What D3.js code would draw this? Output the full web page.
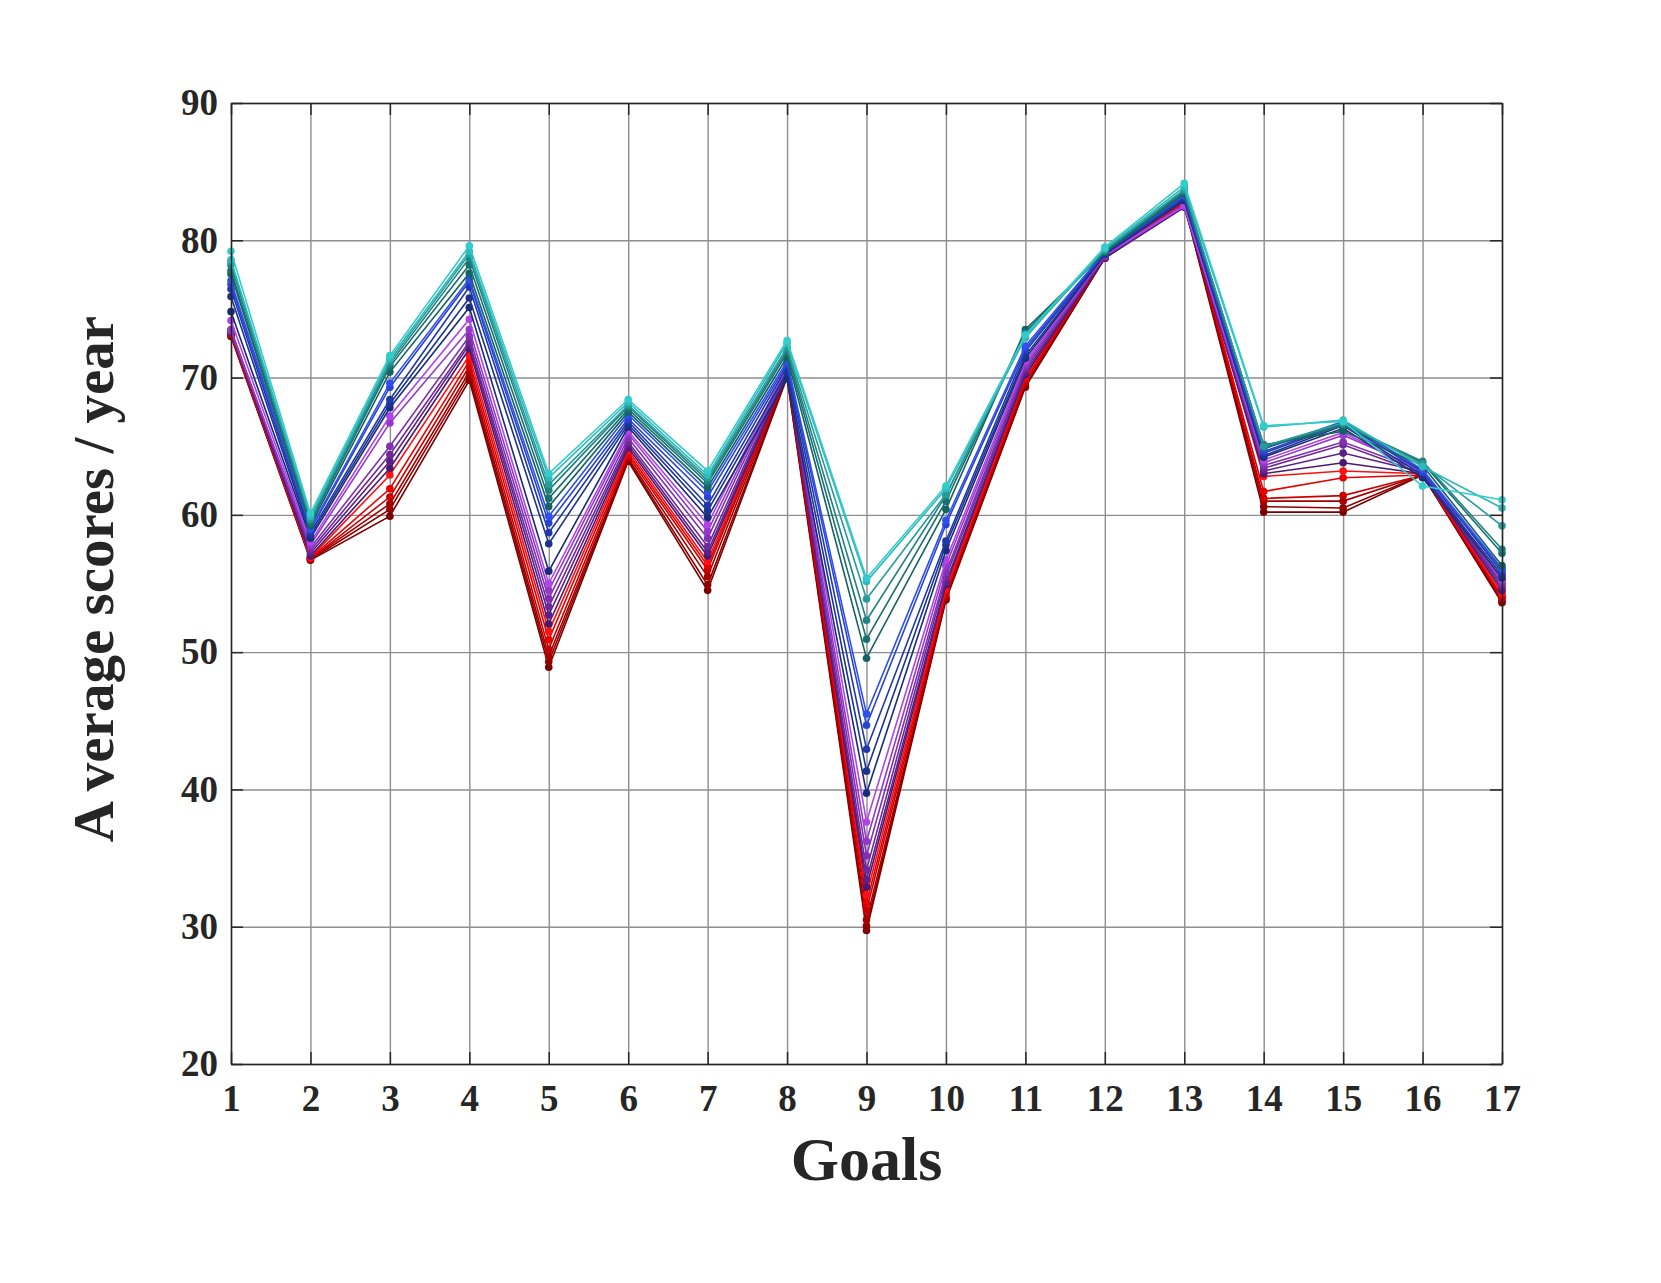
<!DOCTYPE html>
<html>
<head>
<meta charset="utf-8">
<script src="https://cdn.jsdelivr.net/npm/d3@7"></script>
<style>
  body { margin: 0; background: #fff; }
  text { font-family: "Liberation Serif", "Times New Roman", serif; font-weight: bold; fill: #262626; }
</style>
</head>
<body>
<div id="chart"></div>
<script>
// goals on the x axis, one series per year
const goals = [1, 2, 3, 4, 5, 6, 7, 8, 9, 10, 11, 12, 13, 14, 15, 16, 17];
const years = [2000, 2001, 2002, 2003, 2004, 2005, 2006, 2007, 2008, 2009, 2010, 2011,
               2012, 2013, 2014, 2015, 2016, 2017, 2018, 2019, 2020, 2021, 2022];
const yTicks = [20, 30, 40, 50, 60, 70, 80, 90];

// average score per goal, one row per goal, one value per year (same order as years)
const byGoal = [
  [73.0, 73.1, 73.1, 73.2, 73.2, 73.3, 73.3, 73.35, 73.4, 73.5, 73.4, 74.15, 74.8, 75.9, 76.45, 76.8, 77.06, 77.55, 77.8, 78.2, 78.4, 78.57, 79.2],
  [56.7, 56.75, 56.8, 56.8, 56.85, 56.9, 57.0, 57.2, 57.4, 57.6, 57.8, 58.0, 58.3, 58.5, 58.7, 58.9, 59.0, 59.2, 59.4, 59.6, 59.7, 59.9, 60.1],
  [59.9, 60.4, 60.8, 61.3, 61.9, 62.9, 63.4, 63.9, 64.4, 65.0, 66.7, 67.2, 67.8, 68.1, 68.4, 69.3, 69.6, 70.4, 70.8, 71.0, 71.2, 71.4, 71.6],
  [69.8, 70.1, 70.4, 70.8, 71.2, 71.6, 72.1, 72.4, 72.6, 73.0, 73.5, 74.25, 75.1, 75.8, 76.6, 77.0, 77.2, 77.6, 78.2, 78.7, 79.0, 79.2, 79.6],
  [48.9, 49.3, 49.7, 50.2, 50.9, 51.5, 52.05, 52.7, 53.3, 53.9, 54.5, 55.0, 55.9, 57.9, 58.7, 59.4, 59.9, 60.6, 61.2, 61.8, 62.2, 62.7, 63.0],
  [63.9, 64.0, 64.1, 64.3, 64.5, 64.7, 64.9, 65.1, 65.3, 65.6, 65.9, 66.1, 66.4, 66.6, 66.8, 67.0, 67.3, 67.5, 67.7, 67.9, 68.0, 68.2, 68.4],
  [54.5, 54.9, 55.5, 56.0, 56.3, 56.6, 57.0, 57.3, 57.7, 58.3, 58.8, 59.3, 59.8, 60.3, 60.7, 61.3, 61.7, 62.0, 62.3, 62.5, 62.7, 62.9, 63.2],
  [70.0, 70.1, 70.2, 70.3, 70.4, 70.5, 70.3, 70.4, 70.5, 70.6, 70.7, 70.8, 69.9, 70.4, 70.8, 71.0, 71.2, 71.5, 71.8, 72.0, 72.2, 72.5, 72.7],
  [29.72, 30.06, 30.5, 31.17, 31.71, 32.29, 32.88, 33.41, 34.14, 35.16, 36.22, 37.63, 39.72, 41.33, 42.93, 44.67, 45.5, 49.56, 50.94, 52.32, 53.87, 55.14, 55.38],
  [53.8, 53.9, 54.0, 54.2, 54.4, 54.6, 54.9, 55.1, 55.5, 55.8, 56.3, 56.7, 57.4, 57.8, 58.1, 59.3, 59.6, 60.4, 61.0, 61.4, 61.5, 61.9, 62.1],
  [69.3, 69.4, 69.5, 69.7, 69.9, 70.1, 70.2, 70.4, 70.6, 70.8, 71.0, 71.2, 71.4, 71.6, 71.9, 72.1, 72.3, 73.5, 73.3, 73.2, 73.0, 72.9, 73.1],
  [78.7, 78.7, 78.75, 78.8, 78.8, 78.85, 78.7, 78.75, 78.8, 78.85, 78.9, 78.9, 78.95, 79.0, 79.05, 79.1, 79.15, 79.1, 79.2, 79.25, 79.3, 79.4, 79.5],
  [82.6, 82.65, 82.7, 82.75, 82.8, 82.85, 82.4, 82.45, 82.5, 82.55, 82.6, 82.5, 82.9, 83.0, 83.1, 83.2, 83.3, 83.4, 83.5, 83.6, 83.7, 83.9, 84.15],
  [60.2, 60.6, 61.0, 61.2, 61.7, 62.8, 63.0, 63.2, 63.4, 63.6, 63.8, 64.0, 64.2, 64.3, 64.5, 64.6, 64.8, 65.1, 64.9, 65.0, 65.0, 66.4, 66.5],
  [60.2, 60.5, 61.0, 61.4, 62.7, 63.2, 63.8, 64.5, 65.1, 65.3, 65.8, 66.0, 66.3, 66.5, 66.6, 66.7, 66.8, 66.1, 66.5, 66.6, 66.7, 66.9, 66.8],
  [62.9, 62.9, 62.9, 62.9, 62.9, 63.0, 63.0, 63.1, 63.0, 63.2, 63.3, 63.1, 62.7, 62.9, 63.2, 63.1, 63.3, 63.6, 63.8, 63.9, 63.7, 63.5, 62.1],
  [53.6, 53.7, 53.9, 54.0, 54.1, 54.3, 54.5, 54.7, 54.9, 55.0, 55.2, 55.3, 55.4, 55.6, 55.8, 56.0, 56.1, 56.3, 57.2, 57.5, 59.2, 60.5, 61.1]
];

// colour per year: dark red -> red -> purple -> blue -> teal -> cyan
const yearColors = [
  "#7a0000", "#8f0000", "#a50000", "#c80000", "#e60000", "#ff1010",
  "#4b1870", "#5c1f85", "#6e2898", "#8030b0", "#9438c8", "#b044e6",
  "#182c7a", "#1c348f", "#2038a8", "#2844cc", "#3050ee",
  "#156262", "#1a6f6f", "#208282", "#279a9a", "#2eb8b8", "#33cccc"
];

const margin = {top: 103, right: 159, bottom: 219, left: 231};
const width = 1661 - margin.left - margin.right;
const height = 1283 - margin.top - margin.bottom;

const svg = d3.select("#chart")
  .append("svg")
    .attr("width", 1661)
    .attr("height", 1283)
  .append("g")
    .attr("transform", "translate(" + margin.left + "," + margin.top + ")");

const x = d3.scaleLinear().domain([1, 17]).range([0, width]);
const y = d3.scaleLinear().domain([20, 90]).range([height, 0]);

// grid
svg.append("g")
  .attr("transform", "translate(0," + height + ")")
  .call(d3.axisBottom(x).tickValues(goals).tickSize(-height).tickFormat(""))
  .call(g => g.select(".domain").remove())
  .selectAll("line").attr("stroke", "#8e8e8e").attr("stroke-width", 1.4);
svg.append("g")
  .call(d3.axisLeft(y).tickValues(yTicks).tickSize(-width).tickFormat(""))
  .call(g => g.select(".domain").remove())
  .selectAll("line").attr("stroke", "#8e8e8e").attr("stroke-width", 1.4);

// series
const series = years.map((yr, i) => ({
  year: yr,
  color: yearColors[i],
  values: goals.map((gl, j) => ({goal: gl, v: byGoal[j][i]}))
}));

const line = d3.line().x(d => x(d.goal)).y(d => y(d.v));

const yearG = svg.selectAll(".year")
  .data(series)
  .enter()
  .append("g")
    .attr("class", "year");

yearG.append("path")
  .attr("d", d => line(d.values))
  .attr("fill", "none")
  .attr("stroke", d => d.color)
  .attr("stroke-width", 1.6);

yearG.selectAll("circle")
  .data(d => d.values.map(v => ({...v, color: d.color})))
  .enter()
  .append("circle")
    .attr("cx", d => x(d.goal))
    .attr("cy", d => y(d.v))
    .attr("r", 3.8)
    .attr("fill", d => d.color);

// box and inward ticks
const axisFont = g => g.selectAll("text")
  .style("font-size", "37px")
  .style("font-family", "'Liberation Serif', 'Times New Roman', serif")
  .style("font-weight", "bold")
  .attr("fill", "#262626");

svg.append("g")
  .attr("transform", "translate(0," + height + ")")
  .call(d3.axisBottom(x).tickValues(goals).tickSize(-12).tickPadding(21).tickSizeOuter(0))
  .call(axisFont)
  .call(g => g.selectAll("line, path").attr("stroke", "#262626").attr("stroke-width", 1.5));

svg.append("g")
  .call(d3.axisLeft(y).tickValues(yTicks).tickSize(-12).tickPadding(13).tickSizeOuter(0))
  .call(axisFont)
  .call(g => g.selectAll("line, path").attr("stroke", "#262626").attr("stroke-width", 1.5));

svg.append("g")
  .call(d3.axisTop(x).tickValues(goals).tickSize(-12).tickFormat("").tickSizeOuter(0))
  .call(g => g.selectAll("line, path").attr("stroke", "#262626").attr("stroke-width", 1.5));

svg.append("g")
  .attr("transform", "translate(" + width + ",0)")
  .call(d3.axisRight(y).tickValues(yTicks).tickSize(-12).tickFormat("").tickSizeOuter(0))
  .call(g => g.selectAll("line, path").attr("stroke", "#262626").attr("stroke-width", 1.5));

// axis titles
svg.append("text")
  .attr("x", width / 2)
  .attr("y", 1180 - margin.top)
  .attr("text-anchor", "middle")
  .style("font-size", "62px")
  .text("Goals");

const yLabel = svg.append("text")
  .attr("transform", "translate(" + (113 - margin.left) + "," + (579 - margin.top) + ")rotate(-90)")
  .attr("text-anchor", "middle")
  .style("font-size", "57px");
yLabel.append("tspan").text("A");
yLabel.append("tspan").attr("dx", 14).text("verage scores / year");
</script>
</body>
</html>
